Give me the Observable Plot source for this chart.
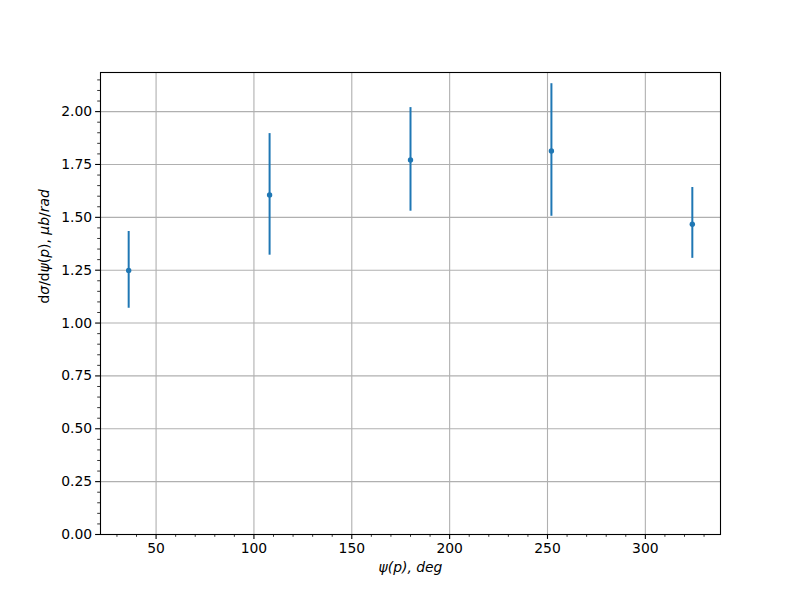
<!DOCTYPE html>
<html><head><meta charset="utf-8">
<script src="https://cdn.jsdelivr.net/npm/d3@7"></script>
<script src="https://cdn.jsdelivr.net/npm/@observablehq/plot@0.6"></script>
<style>body{margin:0;background:#fff;} #chart svg{display:block;}</style>
</head><body><div id="chart"></div>
<script>
const psi = [36, 108, 180, 252, 324];
const sigma = [1.249, 1.606, 1.771, 1.814, 1.467];
const errLow = [1.070, 1.321, 1.529, 1.505, 1.306];
const errHigh = [1.433, 1.896, 2.019, 2.132, 1.641];
const xTicks = [50, 100, 150, 200, 250, 300];
const xMinor = d3.range(30, 340, 10).filter(v => v % 50 !== 0);
const yTicks = [0, 0.25, 0.5, 0.75, 1.0, 1.25, 1.5, 1.75, 2.0];
const yMinor = d3.range(0, 2.2, 0.05).map(v => +v.toFixed(2)).filter(v => Math.abs(v*4 - Math.round(v*4)) > 1e-6);
const xLabel = "ψ(p), deg";
const yLabelParts = [["d", false], ["σ", true], ["/d", false], ["ψ", true], ["(", false], ["p", true], [")", false], [", ", false], ["μb", true], ["/", false], ["rad", true]];
const yLabel = yLabelParts.map(p => p[0]).join("");

const data = psi.map((p, i) => ({psi: p, sigma: sigma[i], lo: errLow[i], hi: errHigh[i]}));
const blue = "#1f77b4";

const chart = Plot.plot({
  width: 800, height: 600,
  marginLeft: 100, marginRight: 80, marginTop: 72, marginBottom: 66,
  style: {fontFamily: "DejaVu Sans", fontSize: "13.9px", color: "black", background: "white"},
  x: {domain: [21.6, 338.4]},
  y: {domain: [0, 2.185]},
  marks: [
    Plot.gridX(xTicks, {stroke: "#b0b0b0", strokeOpacity: 1, strokeWidth: 1.1}),
    Plot.gridY(yTicks, {stroke: "#b0b0b0", strokeOpacity: 1, strokeWidth: 1.1}),
    Plot.ruleX(data, {x: "psi", y1: "lo", y2: "hi", stroke: blue, strokeWidth: 2}),
    Plot.dot(data, {x: "psi", y: "sigma", r: 2.7, fill: blue, stroke: null}),
    Plot.frame({stroke: "black", strokeWidth: 1.1}),
    Plot.axisX(xTicks, {tickSize: 4.9, tickPadding: 3.5, tickFormat: d => d3.format("d")(d), label: null, strokeWidth: 1.1, fontSize: 13.9}),
    Plot.axisX(xMinor, {tickSize: 2.8, text: null, label: null, strokeWidth: 0.8}),
    Plot.axisY(yTicks, {tickSize: 4.9, tickPadding: 3.5, tickFormat: d => d3.format(".2f")(d), label: null, strokeWidth: 1.1, fontSize: 13.9}),
    Plot.axisY(yMinor, {tickSize: 2.8, text: null, label: null, strokeWidth: 0.8}),
    Plot.text([xLabel], {frameAnchor: "bottom", text: d => d, dy: 37, fontSize: 13.9, fontStyle: "italic", className: "xlab"}),
    Plot.text([yLabel], {frameAnchor: "left", text: d => d, rotate: -90, dx: -56, fontSize: 13.9, className: "ylab"})
  ]
});
document.getElementById("chart").appendChild(chart);

// mixed upright/italic as in mathtext
const yt = d3.select(chart).select("g.ylab text");
if (!yt.empty()) {
  yt.text(null);
  yLabelParts.forEach(([s, it]) => yt.append("tspan").text(s).attr("font-style", it ? "italic" : "normal"));
}
</script>
</body></html>
